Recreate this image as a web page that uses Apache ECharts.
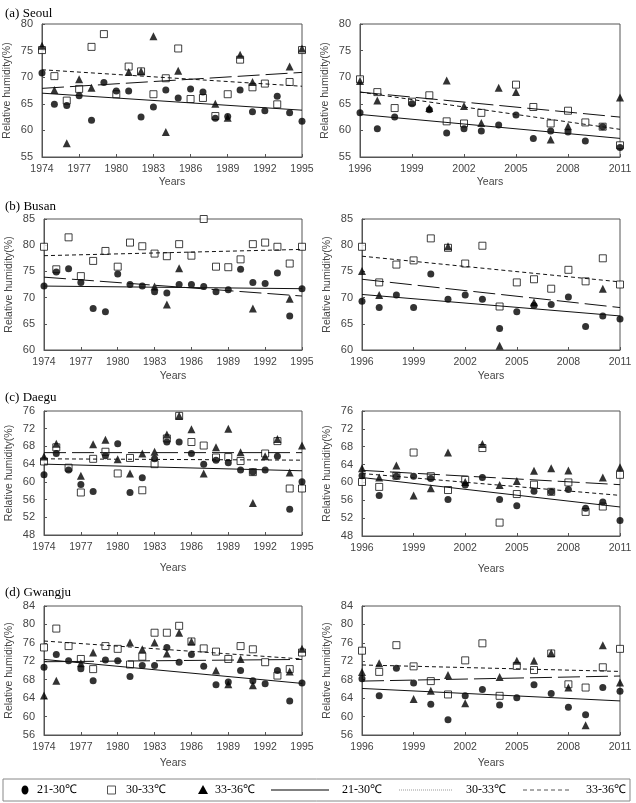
<!DOCTYPE html>
<html>
<head>
<meta charset="utf-8">
<script src="https://cdn.jsdelivr.net/npm/echarts@6/dist/echarts.min.js"></script>
<style>
  html, body { margin: 0; padding: 0; background: #fff; }
  #chart { width: 636px; height: 803px; }
</style>
</head>
<body>
<div id="chart"></div>
<script>
// years
var yearsEarly = [1974,1975,1976,1977,1978,1979,1980,1981,1982,1983,1984,1985,1986,1987,1988,1989,1990,1991,1992,1993,1994,1995];
var yearsLate = [1996,1997,1998,1999,2000,2001,2002,2003,2004,2005,2006,2007,2008,2009,2010,2011];
var xTicksEarly = [1974,1977,1980,1983,1986,1989,1992,1995];
var xTicksLate = [1996,1999,2002,2005,2008,2011];

// (a) Seoul
var seoulEarly21 = [70.8,64.9,64.7,66.5,61.9,69.0,67.4,67.4,62.5,64.4,67.6,66.1,67.8,67.2,62.3,62.6,67.6,63.5,63.7,66.4,63.3,61.7];
var seoulEarly30 = [75.1,70.2,65.6,67.8,75.7,78.1,66.8,72.0,71.1,66.8,69.8,75.4,65.9,66.1,62.7,66.8,73.3,68.1,68.8,64.9,69.1,75.1];
var seoulEarly33 = [75.9,67.6,57.6,69.6,68.0,null,null,71.0,71.1,77.7,59.7,71.2,null,null,65.0,62.4,74.2,69.1,null,null,72.0,75.4];
var seoulEarlyTrend = { t21: [67.0,63.8], t30: [71.4,68.3], t33: [67.9,70.9] };
var seoulLate21 = [63.3,60.3,62.5,65.0,63.9,59.5,60.3,59.9,61.0,62.9,58.5,59.9,59.7,58.0,60.7,56.8];
var seoulLate30 = [69.6,67.2,64.2,65.4,66.6,61.7,61.3,63.3,null,68.6,64.4,61.3,63.7,61.5,60.7,57.2];
var seoulLate33 = [69.3,65.6,null,null,64.2,69.4,64.6,61.4,68.0,67.2,null,58.3,60.8,null,null,66.2];
var seoulLateTrend = { t21: [63.0,58.5], t30: [67.2,60.2], t33: [67.2,62.5] };

// (b) Busan
var busanEarly21 = [72.2,74.9,75.5,72.9,67.9,67.3,74.5,72.5,72.2,71.1,70.9,72.5,72.5,72.1,71.1,71.5,75.4,72.9,72.7,74.7,66.5,71.7];
var busanEarly30 = [79.7,75.4,81.5,74.1,77.0,78.9,75.9,80.5,79.8,78.4,77.9,80.2,78.0,85.0,75.9,75.8,77.3,80.2,80.5,79.7,76.5,79.7];
var busanEarly33 = [null,null,null,null,null,null,null,null,null,72.1,68.7,75.6,null,null,null,null,null,67.9,null,null,69.8,null];
var busanEarlyTrend = { t21: [72.2,71.7], t30: [78.0,79.2], t33: [73.9,70.3] };
var busanLate21 = [69.3,68.1,70.5,68.1,74.5,69.7,70.5,69.7,64.1,67.3,68.5,68.7,70.1,64.5,66.5,65.9];
var busanLate30 = [79.7,72.9,76.3,77.1,81.3,79.5,76.5,79.9,68.3,72.9,73.5,71.7,75.3,73.1,77.5,72.5];
var busanLate33 = [75.1,70.5,null,null,null,79.8,null,null,60.8,null,69.1,null,null,null,71.7,null];
var busanLateTrend = { t21: [70.6,66.5], t30: [77.9,73.0], t33: [73.5,68.1] };

// (c) Daegu
var daeguEarly21 = [61.6,66.4,62.7,59.4,57.8,65.9,68.6,57.6,60.9,65.2,69.0,69.0,66.4,64.0,64.9,64.3,62.7,62.2,62.7,65.8,53.8,60.0];
var daeguEarly30 = [64.6,67.8,63.2,57.6,65.2,66.8,61.9,65.4,58.1,64.0,69.8,74.9,69.0,68.2,65.5,65.6,64.7,62.2,66.4,69.2,58.5,58.5];
var daeguEarly33 = [65.7,68.6,null,61.4,68.5,69.5,65.1,61.9,66.4,66.8,70.7,74.9,71.9,61.9,67.8,72.0,66.7,55.2,65.8,69.7,62.1,68.2];
var daeguEarlyTrend = { t21: [64.0,62.5], t30: [65.2,64.9], t33: [66.6,66.6] };
var daeguLate21 = [61.5,57.1,61.4,61.4,60.9,56.2,59.4,61.1,56.2,54.8,58.0,57.9,58.4,54.2,55.6,51.5];
var daeguLate30 = [60.1,59.0,61.5,66.7,61.4,58.3,60.6,67.7,51.0,57.4,59.5,57.9,60.0,53.4,54.6,61.7];
var daeguLate33 = [63.2,61.1,63.8,57.1,58.7,66.7,60.1,68.6,59.4,60.3,62.6,63.2,62.7,null,61.1,63.4];
var daeguLateTrend = { t21: [61.1,54.5], t30: [62.0,57.1], t33: [62.7,59.5] };

// (d) Gwangju
var gwangjuEarly21 = [70.7,73.5,72.1,70.4,67.8,72.3,72.1,68.7,71.1,71.1,75.0,71.8,73.5,70.9,66.9,67.5,70.0,67.8,67.1,70.0,63.4,67.3];
var gwangjuEarly30 = [75.0,79.1,75.3,72.5,70.3,75.3,74.7,71.3,73.0,78.2,78.2,79.7,76.3,74.8,74.1,72.5,75.3,74.6,71.8,68.9,70.3,73.9];
var gwangjuEarly33 = [64.6,67.8,null,71.6,73.9,null,null,76.1,74.6,76.1,73.7,78.2,76.3,null,70.0,67.0,72.5,66.8,null,null,69.8,74.7];
var gwangjuEarlyTrend = { t21: [72.4,67.2], t30: [76.4,72.5], t33: [71.9,72.4] };
var gwangjuLate21 = [68.2,64.5,70.5,67.3,62.7,59.3,64.5,65.9,62.5,64.1,66.9,65.0,62.0,60.4,66.3,65.5];
var gwangjuLate30 = [74.3,69.7,75.5,70.9,67.7,64.8,72.2,75.9,64.5,71.0,70.1,73.7,67.0,66.3,70.7,74.7];
var gwangjuLate33 = [69.7,71.6,null,63.8,65.6,69.0,62.9,null,68.6,72.1,72.1,73.8,66.3,58.1,75.5,67.4];
var gwangjuLateTrend = { t21: [66.1,63.4], t30: [71.2,69.8], t33: [67.7,68.8] };

// y axis ranges per city
var yRanges = [[55,80,5],[60,85,5],[48,76,4],[56,84,4]];
var titles = ['(a) Seoul','(b) Busan','(c) Daegu','(d) Gwangju'];

var panels = [
  {years: yearsEarly, ticks: xTicksEarly, c: seoulEarly21, s: seoulEarly30, t: seoulEarly33, tr: seoulEarlyTrend},
  {years: yearsLate, ticks: xTicksLate, c: seoulLate21, s: seoulLate30, t: seoulLate33, tr: seoulLateTrend},
  {years: yearsEarly, ticks: xTicksEarly, c: busanEarly21, s: busanEarly30, t: busanEarly33, tr: busanEarlyTrend},
  {years: yearsLate, ticks: xTicksLate, c: busanLate21, s: busanLate30, t: busanLate33, tr: busanLateTrend},
  {years: yearsEarly, ticks: xTicksEarly, c: daeguEarly21, s: daeguEarly30, t: daeguEarly33, tr: daeguEarlyTrend},
  {years: yearsLate, ticks: xTicksLate, c: daeguLate21, s: daeguLate30, t: daeguLate33, tr: daeguLateTrend},
  {years: yearsEarly, ticks: xTicksEarly, c: gwangjuEarly21, s: gwangjuEarly30, t: gwangjuEarly33, tr: gwangjuEarlyTrend},
  {years: yearsLate, ticks: xTicksLate, c: gwangjuLate21, s: gwangjuLate30, t: gwangjuLate33, tr: gwangjuLateTrend}
];

// layout
var gridPos = [
  {left:42, top:24, width:260, height:133},
  {left:360, top:24, width:260, height:133},
  {left:44, top:219, width:258, height:131},
  {left:362, top:219, width:258, height:131},
  {left:44, top:411, width:258, height:124},
  {left:362, top:411, width:258, height:125},
  {left:44, top:606, width:258, height:129},
  {left:362, top:606, width:258, height:129}
];
var xNameGap = [20, 21, 28, 23];
var titleTop = [2, 195, 386, 581];

var axisFont = 'Liberation Sans, Arial, sans-serif';
var serifFont = 'Liberation Serif, Times New Roman, serif';
var axisColor = '#555';

function pairs(years, vals){
  var out = [];
  for (var i = 0; i < years.length; i++) {
    if (vals[i] != null) out.push([years[i], vals[i]]);
  }
  return out;
}
function trendLine(years, ends){
  return [[years[0], ends[0]], [years[years.length-1], ends[1]]];
}

var grids = [], xAxes = [], yAxes = [], series = [], titleList = [];
for (var p = 0; p < panels.length; p++) {
  var pn = panels[p];
  var row = Math.floor(p / 2);
  var yr = yRanges[row];
  grids.push({
    left: gridPos[p].left, top: gridPos[p].top, width: gridPos[p].width, height: gridPos[p].height,
    show: true, borderColor: axisColor, borderWidth: 1, backgroundColor: 'transparent'
  });
  xAxes.push({
    type: 'value', gridIndex: p,
    min: pn.years[0], max: pn.years[pn.years.length-1],
    name: 'Years', nameLocation: 'middle', nameGap: xNameGap[row],
    nameTextStyle: {fontFamily: axisFont, fontSize: 10.5, color: '#444'},
    axisLine: {show: true, onZero: false, lineStyle: {color: axisColor}},
    axisTick: {show: true, inside: true, length: 3, customValues: pn.ticks, lineStyle: {color: axisColor}},
    axisLabel: {
      customValues: pn.ticks, fontFamily: axisFont, fontSize: 10.5, color: '#444', margin: 7,
      formatter: function (v) { return String(v); }
    },
    splitLine: {show: false}
  });
  yAxes.push({
    type: 'value', gridIndex: p,
    min: yr[0], max: yr[1], interval: yr[2],
    name: 'Relative humidity(%)', nameLocation: 'middle', nameGap: 29, nameRotate: 90,
    nameTextStyle: {fontFamily: axisFont, fontSize: 10.5, color: '#444'},
    axisLine: {show: true, lineStyle: {color: axisColor}},
    axisTick: {show: true, inside: true, length: 3, lineStyle: {color: axisColor}},
    axisLabel: {fontFamily: axisFont, fontSize: 11, color: '#444', margin: 9},
    splitLine: {show: false}
  });
  // markers: squares under circles under triangles
  series.push({
    type: 'scatter', xAxisIndex: p, yAxisIndex: p, symbol: 'rect', symbolSize: 7,
    itemStyle: {color: '#fff', borderColor: '#111', borderWidth: 1},
    data: pairs(pn.years, pn.s), z: 3
  });
  series.push({
    type: 'scatter', xAxisIndex: p, yAxisIndex: p, symbol: 'circle', symbolSize: 7,
    itemStyle: {color: '#000'},
    data: pairs(pn.years, pn.c), z: 4
  });
  series.push({
    type: 'scatter', xAxisIndex: p, yAxisIndex: p, symbol: 'triangle', symbolSize: 8,
    itemStyle: {color: '#000'},
    data: pairs(pn.years, pn.t), z: 5
  });
  // trend lines
  series.push({
    type: 'line', xAxisIndex: p, yAxisIndex: p, showSymbol: false, silent: true,
    lineStyle: {color: '#111', width: 1, type: 'solid'},
    data: trendLine(pn.years, pn.tr.t21), z: 6
  });
  series.push({
    type: 'line', xAxisIndex: p, yAxisIndex: p, showSymbol: false, silent: true,
    lineStyle: {color: '#111', width: 1, type: [4, 3]},
    data: trendLine(pn.years, pn.tr.t30), z: 6
  });
  series.push({
    type: 'line', xAxisIndex: p, yAxisIndex: p, showSymbol: false, silent: true,
    lineStyle: {color: '#111', width: 1, type: [22, 6]},
    data: trendLine(pn.years, pn.tr.t33), z: 6
  });
}
for (var r = 0; r < titles.length; r++) {
  titleList.push({
    text: titles[r], left: 0, top: titleTop[r],
    textStyle: {fontFamily: serifFont, fontSize: 13, fontWeight: 'normal', color: '#000'}
  });
}

// bottom legend box
var legY = 790;
var legText = {fontFamily: serifFont, fontSize: 12, fill: '#000', verticalAlign: 'middle'};
function lt(x, s){ return {type: 'text', x: x, y: legY, style: Object.assign({text: s}, legText)}; }
var legendGraphic = [
  {type: 'rect', shape: {x: 3, y: 779, width: 627, height: 22}, style: {fill: 'none', stroke: '#888', lineWidth: 1}},
  {type: 'ellipse', shape: {cx: 25, cy: legY, rx: 3.5, ry: 4.5}, style: {fill: '#000'}},
  lt(37, '21-30℃'),
  {type: 'rect', shape: {x: 107.5, y: legY - 4, width: 8, height: 8}, style: {fill: '#fff', stroke: '#555', lineWidth: 1}},
  lt(126, '30-33℃'),
  {type: 'polygon', shape: {points: [[203, legY - 5], [198, legY + 4], [208, legY + 4]]}, style: {fill: '#000'}},
  lt(215, '33-36℃'),
  {type: 'line', shape: {x1: 271, y1: legY, x2: 329, y2: legY}, style: {stroke: '#555', lineWidth: 1.5}},
  lt(342, '21-30℃'),
  {type: 'line', shape: {x1: 399, y1: legY, x2: 453, y2: legY}, style: {stroke: '#999', lineWidth: 1, lineDash: [1, 1]}},
  lt(466, '30-33℃'),
  {type: 'line', shape: {x1: 523, y1: legY, x2: 572, y2: legY}, style: {stroke: '#555', lineWidth: 1, lineDash: [4, 3]}},
  lt(586, '33-36℃')
];

var myChart = echarts.init(document.getElementById('chart'));
myChart.setOption({
  animation: false,
  backgroundColor: '#fff',
  title: titleList,
  grid: grids,
  xAxis: xAxes,
  yAxis: yAxes,
  series: series,
  graphic: legendGraphic
});
</script>
</body>
</html>
